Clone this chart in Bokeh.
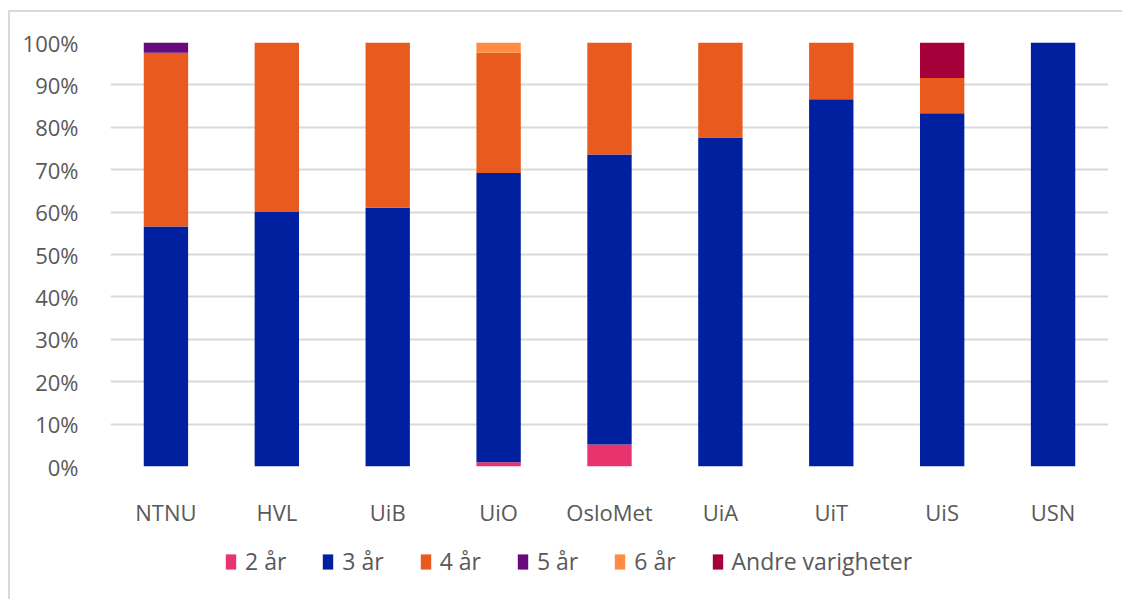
from bokeh.plotting import figure
from bokeh.layouts import column
from bokeh.models import (ColumnDataSource, NumeralTickFormatter, Legend, LegendItem,
                          FixedTicker, Range1d)
from bokeh.embed import file_html
from bokeh.resources import INLINE

institutions = ["NTNU", "HVL", "UiB", "UiO", "OsloMet", "UiA", "UiT", "UiS", "USN"]
series_names = ["2 år", "3 år", "4 år", "5 år", "6 år", "Andre varigheter"]
colors = ["#E8336F", "#00209F", "#E95A1F", "#660A7E", "#FF8C42", "#A6003A"]

aar2 = [0.0, 0.0, 0.0, 0.010, 0.052, 0.0, 0.0, 0.0, 0.0]
aar3 = [0.566, 0.600, 0.610, 0.682, 0.684, 0.776, 0.866, 0.833, 1.0]
aar4 = [0.410, 0.400, 0.390, 0.284, 0.264, 0.224, 0.134, 0.083, 0.0]
aar5 = [0.024, 0.0, 0.0, 0.0, 0.0, 0.0, 0.0, 0.0, 0.0]
aar6 = [0.0, 0.0, 0.0, 0.024, 0.0, 0.0, 0.0, 0.0, 0.0]
andre = [0.0, 0.0, 0.0, 0.0, 0.0, 0.0, 0.0, 0.084, 0.0]

keys = ["s2", "s3", "s4", "s5", "s6", "sa"]
source = ColumnDataSource(data=dict(x=institutions, s2=aar2, s3=aar3, s4=aar4,
                                    s5=aar5, s6=aar6, sa=andre))

FONT = "Open Sans"
TXT = "#595959"

p = figure(x_range=institutions, y_range=(0, 1), width=1112, height=527,
           output_backend="svg", toolbar_location=None,
           min_border_left=100, min_border_right=14, min_border_top=30,
           min_border_bottom=73)
p.outline_line_color = None

p.vbar_stack(keys, x="x", width=0.4, source=source, color=colors, line_color=None)

p.yaxis.ticker = FixedTicker(ticks=[i / 10 for i in range(11)])
p.yaxis.formatter = NumeralTickFormatter(format="0%")
for ax in (p.xaxis[0], p.yaxis[0]):
    ax.axis_line_color = None
    ax.major_tick_line_color = None
    ax.minor_tick_line_color = None
    ax.major_label_text_font = FONT
    ax.major_label_text_font_size = "22px"
    ax.major_label_text_color = TXT
p.yaxis.major_label_standoff = 26
p.xaxis.major_label_standoff = 24

p.xgrid.grid_line_color = None
p.ygrid.grid_line_color = "#d9d9d9"
p.ygrid.grid_line_width = 2

# legend strip (its frame is aligned with the main plot's frame)
lg = figure(width=1112, height=60, output_backend="svg", toolbar_location=None,
            x_range=Range1d(0, 1), y_range=Range1d(0, 1),
            x_axis_type=None, y_axis_type=None,
            min_border_left=0, min_border_right=0, min_border_top=0,
            min_border_bottom=0)
lg.outline_line_color = None
dummies = [lg.vbar(x=[-10], top=[0], width=0.1, color=c, line_color=None)
           for c in colors]
items = [LegendItem(label=n, renderers=[r]) for n, r in zip(series_names, dummies)]
legend = Legend(items=items, orientation="horizontal", location=(114, 22),
                label_text_font=FONT, label_text_font_size="23px",
                label_text_color=TXT, glyph_width=13, glyph_height=19,
                label_standoff=8, spacing=35, padding=0, margin=0,
                border_line_color=None, background_fill_alpha=0)
lg.add_layout(legend, "center")

layout = column(p, lg, spacing=0)
layout.styles = {"border-left": "2px solid #d9d9d9", "border-top": "2px solid #d9d9d9",
                 "margin-left": "8px", "margin-top": "10px"}

open("out.html", "w").write(file_html(layout, INLINE))
